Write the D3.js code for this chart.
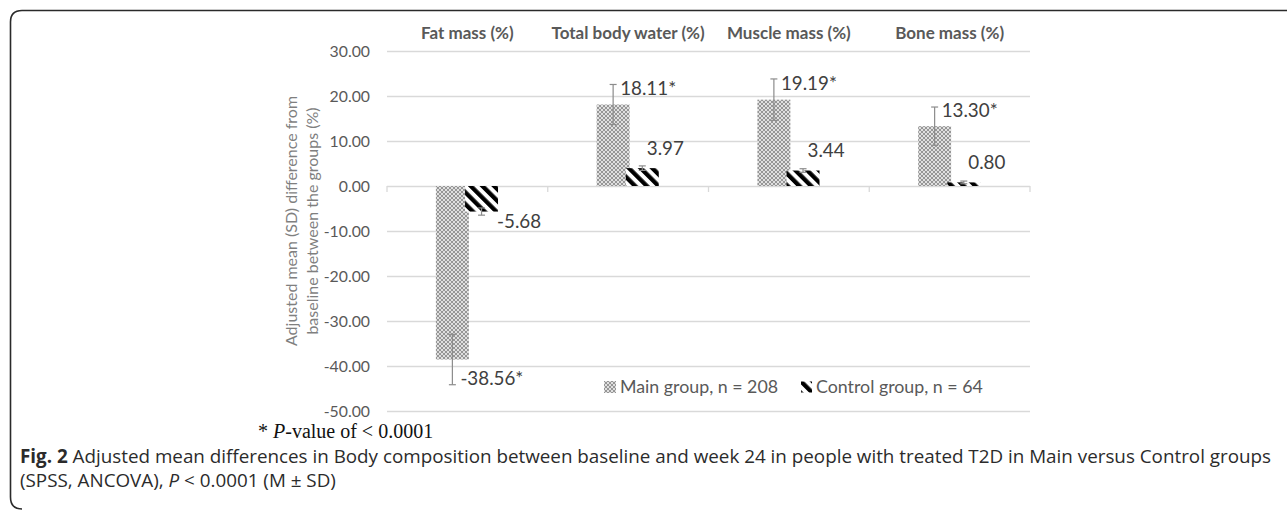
<!DOCTYPE html>
<html>
<head>
<meta charset="utf-8">
<script src="https://cdn.jsdelivr.net/npm/d3@7"></script>
<style>
  body { margin: 0; background: #fff; }
  svg { display: block; }
</style>
</head>
<body>
<svg id="chart" width="1287" height="511"></svg>
<script>
// Body composition: adjusted mean difference from baseline, by group
const categories = ["Fat mass (%)", "Total body water (%)", "Muscle mass (%)", "Bone mass (%)"];
const mainValues = [-38.56, 18.11, 19.19, 13.30];
const mainSD = [5.6, 4.45, 4.6, 4.25];
const controlValues = [-5.68, 3.97, 3.44, 0.80];
const controlSD = [0.8, 0.5, 0.4, 0.3];
const yTicks = [30, 20, 10, 0, -10, -20, -30, -40, -50];
const seriesNames = ["Main group, n = 208", "Control group, n = 64"];
const yTitle = ["Adjusted mean (SD) difference from", "baseline between the groups (%)"];

const svg = d3.select("#chart");
const W = 1287, H = 511;
const chartFont = "Lato, 'Open Sans', sans-serif";

// Fill patterns
const defs = svg.append("defs");
const dots = defs.append("pattern").attr("id", "dotgrid")
  .attr("width", 4).attr("height", 4).attr("patternUnits", "userSpaceOnUse");
dots.append("rect").attr("width", 4).attr("height", 4).attr("fill", "#969696");
[[0,0],[4,0],[0,4],[4,4],[2,2]].forEach(([cx, cy]) =>
  dots.append("circle").attr("cx", cx).attr("cy", cy).attr("r", 0.95).attr("fill", "#fff"));

const hatch = defs.append("pattern").attr("id", "hatch")
  .attr("width", 8.3).attr("height", 8.3).attr("patternUnits", "userSpaceOnUse")
  .attr("patternTransform", "rotate(-45)");
hatch.append("rect").attr("width", 8.3).attr("height", 8.3).attr("fill", "#fff");
hatch.append("rect").attr("width", 4.3).attr("height", 8.3).attr("fill", "#000");

// Frame
svg.append("path")
  .attr("d", `M${W},10.5 H22 Q10.5,10.5 10.5,22 V497 Q10.5,509 22,509`)
  .attr("fill", "none").attr("stroke", "#2a2a2a").attr("stroke-width", 1.6);

// Scales
const x = d3.scaleBand().domain(categories).range([387, 1030]).paddingInner(0).paddingOuter(0);
const y = d3.scaleLinear().domain([-50, 30]).range([411, 51]);
const barW = x.bandwidth() * 0.205;
const cx = c => x(c) + x.bandwidth() / 2;
const mainX = c => cx(c) - barW * 0.955;
const ctrlX = c => cx(c) - barW * 0.07;

// Gridlines and value axis
const yAxis = d3.axisLeft(y).tickValues(yTicks).tickSize(-(1030 - 387)).tickPadding(17)
  .tickFormat(d => d.toFixed(2));
const gy = svg.append("g").attr("transform", "translate(387,0)").call(yAxis);
gy.select(".domain").remove();
gy.selectAll(".tick line").attr("stroke", "#d9d9d9").attr("stroke-width", 1.3);
gy.selectAll(".tick text").attr("fill", "#595959").style("font-family", chartFont)
  .style("font-size", "15.8px");

// Category axis ticks below the zero line
const bounds = categories.map(c => x(c)).concat([1030]);
svg.append("g").selectAll("line").data(bounds).join("line")
  .attr("x1", d => d).attr("x2", d => d)
  .attr("y1", y(0)).attr("y2", y(0) + 6)
  .attr("stroke", "#d9d9d9").attr("stroke-width", 1.3);

// Category headers
svg.append("g").selectAll("text").data(categories).join("text")
  .attr("x", d => cx(d)).attr("y", 39)
  .attr("text-anchor", "middle")
  .attr("fill", "#595959").style("font-family", chartFont)
  .style("font-size", "17px").style("font-weight", "700")
  .text(d => d);

// Value axis title
const title = svg.append("text")
  .attr("transform", `translate(297,221) rotate(-90)`)
  .attr("text-anchor", "middle")
  .attr("fill", "#7f7f7f").style("font-family", chartFont).style("font-size", "16px");
title.selectAll("tspan").data(yTitle).join("tspan")
  .attr("x", 0).attr("y", (d, i) => i * 21)
  .text(d => d);

// Bars
const rows = categories.map((c, i) => ({
  c, main: mainValues[i], mainSD: mainSD[i], ctrl: controlValues[i], ctrlSD: controlSD[i]
}));

const gBars = svg.append("g");
gBars.selectAll("rect.main").data(rows).join("rect").attr("class", "main")
  .attr("x", d => mainX(d.c)).attr("width", barW)
  .attr("y", d => y(Math.max(0, d.main))).attr("height", d => Math.abs(y(d.main) - y(0)))
  .attr("fill", "url(#dotgrid)");
gBars.selectAll("rect.ctrl").data(rows).join("rect").attr("class", "ctrl")
  .attr("x", d => ctrlX(d.c)).attr("width", barW)
  .attr("y", d => y(Math.max(0, d.ctrl))).attr("height", d => Math.abs(y(d.ctrl) - y(0)))
  .attr("fill", "url(#hatch)");

// Error bars: mean ± SD
function errorBar(g, xc, v, sd) {
  const y1 = y(v - sd), y2 = y(v + sd);
  g.append("line").attr("x1", xc).attr("x2", xc).attr("y1", y1).attr("y2", y2);
  g.append("line").attr("x1", xc - 3.5).attr("x2", xc + 3.5).attr("y1", y1).attr("y2", y1);
  g.append("line").attr("x1", xc - 3.5).attr("x2", xc + 3.5).attr("y1", y2).attr("y2", y2);
}
const gErr = svg.append("g").attr("stroke", "#8c8c8c").attr("stroke-width", 1.2);
rows.forEach(d => {
  errorBar(gErr, mainX(d.c) + barW / 2, d.main, d.mainSD);
  errorBar(gErr, ctrlX(d.c) + barW / 2, d.ctrl, d.ctrlSD);
});

// Data labels
const gLab = svg.append("g").attr("fill", "#404040").style("font-family", chartFont)
  .style("font-size", "18.8px");
rows.forEach(d => {
  const mx = mainX(d.c) + barW / 2;
  if (d.main >= 0) {
    gLab.append("text").attr("x", mx + 7).attr("y", y(d.main) - 16).attr("dy", "0.35em")
      .text(d.main.toFixed(2) + "*");
  } else {
    gLab.append("text").attr("x", mx + 8).attr("y", y(d.main - d.mainSD) - 6).attr("dy", "0.35em")
      .text(d.main.toFixed(2) + "*");
  }
  const right = ctrlX(d.c) + barW;
  if (d.ctrl >= 0) {
    gLab.append("text").attr("x", right - 12).attr("y", y(d.ctrl) - 20).attr("dy", "0.35em")
      .text(d.ctrl.toFixed(2));
  } else {
    gLab.append("text").attr("x", right - 1).attr("y", y(d.ctrl) + 10).attr("dy", "0.35em")
      .text(d.ctrl.toFixed(2));
  }
});

// Legend
const legend = svg.append("g").attr("transform", "translate(604,387)");
const fills = ["url(#dotgrid)", "url(#hatch)"];
let lx = 0;
seriesNames.forEach((name, i) => {
  const sw = i === 0 ? 12 : 11;
  legend.append("rect").attr("x", lx).attr("y", -sw / 2).attr("width", sw).attr("height", sw)
    .attr("fill", fills[i]);
  const t = legend.append("text").attr("x", lx + sw + 4).attr("y", 0).attr("dy", "0.35em")
    .attr("fill", "#595959").style("font-family", chartFont).style("font-size", "17.8px")
    .text(name);
  lx += sw + 4 + t.node().getComputedTextLength() + 23;
});

// Footnote
const foot = svg.append("text").attr("x", 258).attr("y", 438)
  .attr("fill", "#111").style("font-family", "'Liberation Serif', 'Times New Roman', serif")
  .style("font-size", "20px");
foot.append("tspan").text("* ");
foot.append("tspan").style("font-style", "italic").text("P");
foot.append("tspan").text("-value of < 0.0001");

// Caption
const capFont = "'Open Sans', 'Noto Sans', sans-serif";
const cap1 = svg.append("text").attr("x", 20).attr("y", 463)
  .attr("fill", "#2b2b2b").style("font-family", capFont).style("font-size", "15.5px");
cap1.append("tspan").style("font-weight", "700").text("Fig. 2");
cap1.append("tspan").text(" Adjusted mean differences in Body composition between baseline and week 24 in people with treated T2D in Main versus Control groups");
const cap2 = svg.append("text").attr("x", 20).attr("y", 487)
  .attr("fill", "#2b2b2b").style("font-family", capFont).style("font-size", "15.5px");
cap2.append("tspan").text("(SPSS, ANCOVA), ");
cap2.append("tspan").style("font-style", "italic").text("P");
cap2.append("tspan").text(" < 0.0001 (M ± SD)");

// Fit caption size to the text column width
const capLen = cap1.node().getComputedTextLength();
const capSize = 15.5 * (1252 / capLen);
cap1.style("font-size", capSize + "px");
cap2.style("font-size", capSize + "px");
</script>
</body>
</html>
